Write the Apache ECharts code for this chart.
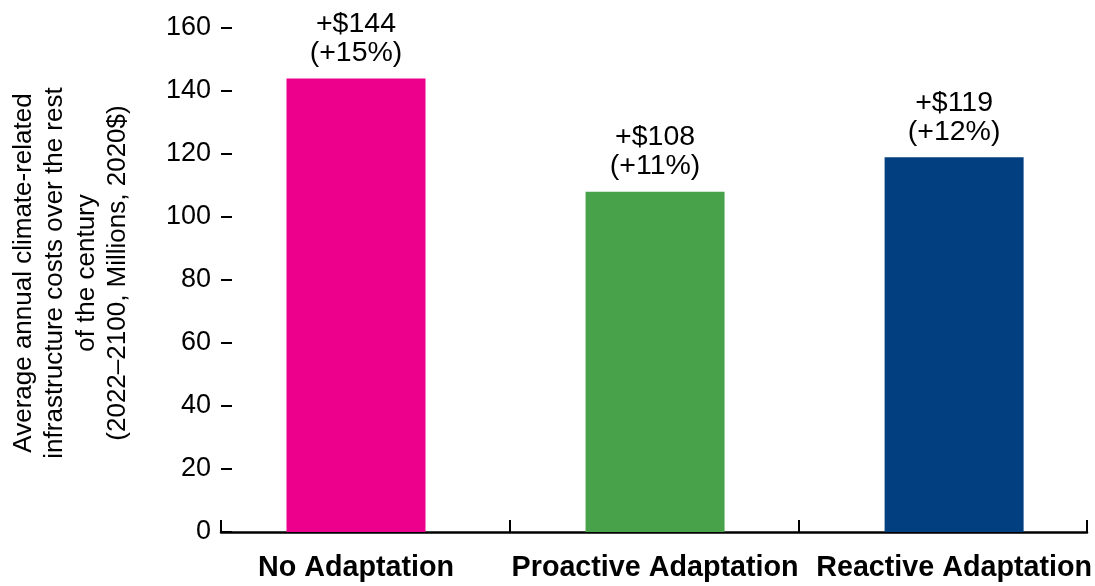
<!DOCTYPE html>
<html>
<head>
<meta charset="utf-8">
<title>Average annual climate-related infrastructure costs</title>
<script src="https://cdn.jsdelivr.net/npm/echarts@6/dist/echarts.min.js"></script>
<style>
  html, body { margin: 0; padding: 0; background: #ffffff; }
  #chart { width: 1095px; height: 586px; }
</style>
</head>
<body>
<div id="chart"></div>
<script>
// Scenario names along the x axis
const categories = ['No Adaptation', 'Proactive Adaptation', 'Reactive Adaptation'];
// Average annual costs (millions, 2020$) for each scenario
const costs = [144, 108, 119];
// Percent increase shown under each dollar amount
const pctIncrease = [15, 11, 12];
// Bar colours for each scenario
const barColors = ['#EC008C', '#48A24A', '#023F80'];
// Value axis range and step
const yMin = 0;
const yMax = 160;
const yStep = 20;
const yTitle = 'Average annual climate-related\ninfrastructure costs over the rest\nof the century\n(2022\u20132100, Millions, 2020$)';

const FONT = '"Liberation Sans", Arial, Helvetica, sans-serif';

const chart = echarts.init(document.getElementById('chart'), null, { renderer: 'canvas' });

const option = {
  backgroundColor: '#ffffff',
  animation: false,
  grid: [
    // frame grid: carries the axis line, ticks and value labels
    { left: 221, right: 8, top: 28, bottom: 54 },
    // bar grid: category points sit on the grid edges and middle
    { left: 356, width: 599, top: 28, bottom: 54 }
  ],
  xAxis: [
    {
      type: 'category',
      gridIndex: 0,
      data: categories,
      axisLine: { show: true, lineStyle: { color: '#000', width: 2.5 } },
      axisTick: { show: true, inside: true, length: 12, lineStyle: { color: '#000', width: 2 } },
      axisLabel: { show: false },
      splitLine: { show: false }
    },
    {
      type: 'category',
      gridIndex: 1,
      data: categories,
      boundaryGap: false,
      axisLine: { show: false },
      axisTick: { show: false },
      axisLabel: {
        show: true,
        interval: 0,
        margin: 22,
        color: '#000',
        fontFamily: FONT,
        fontSize: 28.7,
        fontWeight: 'bold'
      },
      splitLine: { show: false }
    }
  ],
  yAxis: [
    {
      type: 'value',
      gridIndex: 0,
      min: yMin,
      max: yMax,
      interval: yStep,
      axisLine: { show: false },
      axisTick: { show: true, inside: true, length: 11, lineStyle: { color: '#000', width: 2 } },
      axisLabel: { color: '#000', fontFamily: FONT, fontSize: 27, margin: 10 },
      splitLine: { show: false },
      name: yTitle,
      nameLocation: 'middle',
      nameRotate: 90,
      nameGap: 87,
      nameTextStyle: {
        color: '#000',
        fontFamily: FONT,
        fontSize: 26,
        lineHeight: 31.5,
        align: 'center',
        padding: [0, 0, 0, 14]
      }
    },
    {
      type: 'value',
      gridIndex: 1,
      min: yMin,
      max: yMax,
      interval: yStep,
      show: false
    }
  ],
  series: [
    {
      type: 'bar',
      xAxisIndex: 1,
      yAxisIndex: 1,
      barWidth: 139,
      clip: false,
      data: costs.map((v, i) => ({ value: v, itemStyle: { color: barColors[i] } })),
      label: {
        show: true,
        position: 'top',
        distance: 11,
        color: '#000',
        fontFamily: FONT,
        fontSize: 28.5,
        lineHeight: 29,
        align: 'center',
        formatter: (p) => '+$' + costs[p.dataIndex] + '\n(+' + pctIncrease[p.dataIndex] + '%)'
      }
    }
  ]
};

chart.setOption(option);
</script>
</body>
</html>
